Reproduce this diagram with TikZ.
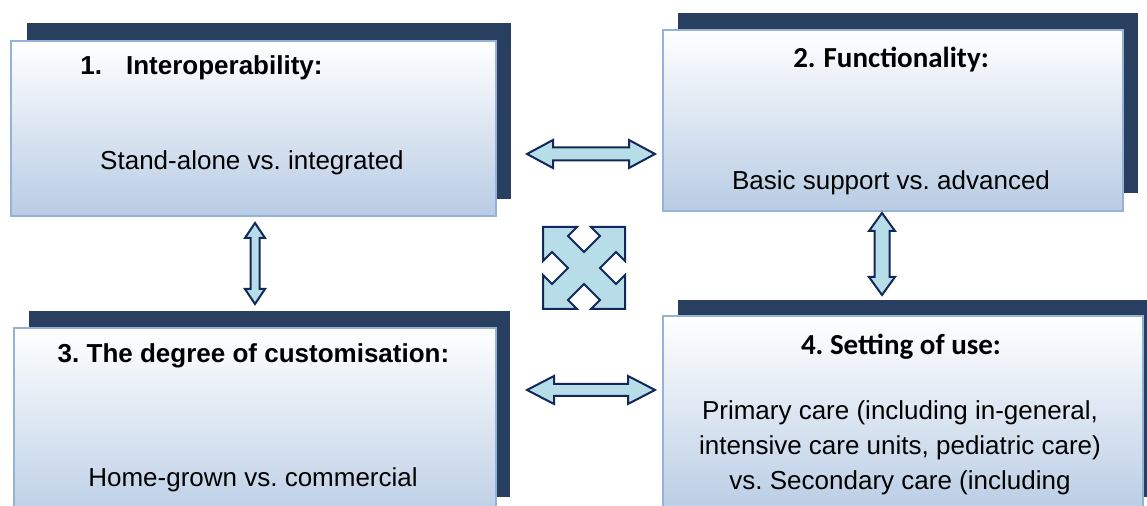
\documentclass[tikz,border=0pt]{standalone}
\usepackage{fontspec}
\setmainfont{Liberation Sans}
\newfontfamily\calibrifont{Carlito}
\frenchspacing
\definecolor{shadowblue}{RGB}{40,63,95}
\definecolor{boxborder}{RGB}{149,179,215}
\definecolor{boxbottom}{RGB}{184,204,228}
\definecolor{arrowfill}{RGB}{183,222,232}
\definecolor{arrowline}{RGB}{18,40,88}
\tikzset{
  shadowbox/.style={fill=shadowblue, draw=none, inner sep=0pt, anchor=north west},
  lightbox/.style={top color=white, bottom color=boxbottom, draw=boxborder, line width=1pt, inner sep=0pt, anchor=north west},
  ttl/.style={font=\fontsize{13}{17.5}\selectfont\bfseries, inner sep=0pt},
  cttl/.style={font=\fontsize{14.5}{17.5}\selectfont\calibrifont\bfseries, inner sep=0pt},
  body/.style={font=\fontsize{13}{17.5}\selectfont, inner sep=0pt, align=center},
  arrowshape/.style={fill=arrowfill, draw=arrowline, line width=1pt, line join=miter}
}
\begin{document}
\begin{tikzpicture}[x=0.5pt,y=-0.5pt]
\useasboundingbox (0,0) rectangle (1147,506);
\clip (0,0) rectangle (1147,506);
% box 1
\node[shadowbox, minimum width=242pt, minimum height=88pt] (s1) at (27,23) {};
\node[lightbox, minimum width=242.5pt, minimum height=87.5pt] (b1) at (10,40) {};
\node[ttl, anchor=base west] (t1) at (80,75) {1.\hspace{12pt}Interoperability:};
\node[body, anchor=base] (d1) at (252,170) {Stand-alone vs. integrated};
% box 2
\node[shadowbox, minimum width=230pt, minimum height=90pt] (s2) at (678,13) {};
\node[lightbox, minimum width=230pt, minimum height=90.5pt] (b2) at (662,29) {};
\node[cttl, anchor=base] (t2) at (891,68) {2.\hspace{4pt}Functionality:};
\node[body, anchor=base] (d2) at (891,190) {Basic support vs. advanced};
% box 3
\node[shadowbox, minimum width=240.5pt, minimum height=93pt] (s3) at (29,311) {};
\node[lightbox, minimum width=241pt, minimum height=100pt] (b3) at (13,327) {};
\node[ttl, anchor=base] (t3) at (253.5,363) {3. The degree of customisation:};
\node[body, anchor=base] (d3) at (253,487) {Home-grown vs. commercial};
% box 4
\node[shadowbox, minimum width=240pt, minimum height=98.5pt] (s4) at (678,300) {};
\node[lightbox, minimum width=240pt, minimum height=100pt] (b4) at (662,315) {};
\node[cttl, anchor=base] (t4) at (901,355) {4. Setting of use:};
\node[body, anchor=base] (d4a) at (900,420) {Primary care (including in-general,};
\node[body, anchor=base] (d4b) at (900,455) {intensive care units, pediatric care)};
\node[body, anchor=base] (d4c) at (900,490) {vs. Secondary care (including};
% double arrows
\draw[arrowshape] (527,154) -- (553,140) -- (553,147.5) -- (629,147.5) -- (629,140) -- (655,154)
  -- (629,168) -- (629,160.5) -- (553,160.5) -- (553,168) -- cycle;
\draw[arrowshape] (527,390) -- (554,376) -- (554,384) -- (628,384) -- (628,376) -- (655,390)
  -- (628,404) -- (628,396) -- (554,396) -- (554,404) -- cycle;
\draw[arrowshape] (255,223) -- (265,238) -- (259.5,238) -- (259.5,289) -- (265,289) -- (255,304)
  -- (245,289) -- (250.5,289) -- (250.5,238) -- (245,238) -- cycle;
\draw[arrowshape] (882,213) -- (895,231) -- (889.5,231) -- (889.5,277) -- (895,277) -- (882,295)
  -- (869,277) -- (874.5,277) -- (874.5,231) -- (869,231) -- cycle;
% quad arrow
\begin{scope}[shift={(584,268)}]
\draw[arrowshape] (-41,-41) -- (-7,-41) -- (-16,-32) -- (0,-16) -- (16,-32) -- (7,-41)
  -- (41,-41) -- (41,-7) -- (32,-16) -- (16,0) -- (32,16) -- (41,7)
  -- (41,41) -- (7,41) -- (16,32) -- (0,16) -- (-16,32) -- (-7,41)
  -- (-41,41) -- (-41,7) -- (-32,16) -- (-16,0) -- (-32,-16) -- (-41,-7) -- cycle;
\end{scope}
\end{tikzpicture}
\end{document}
